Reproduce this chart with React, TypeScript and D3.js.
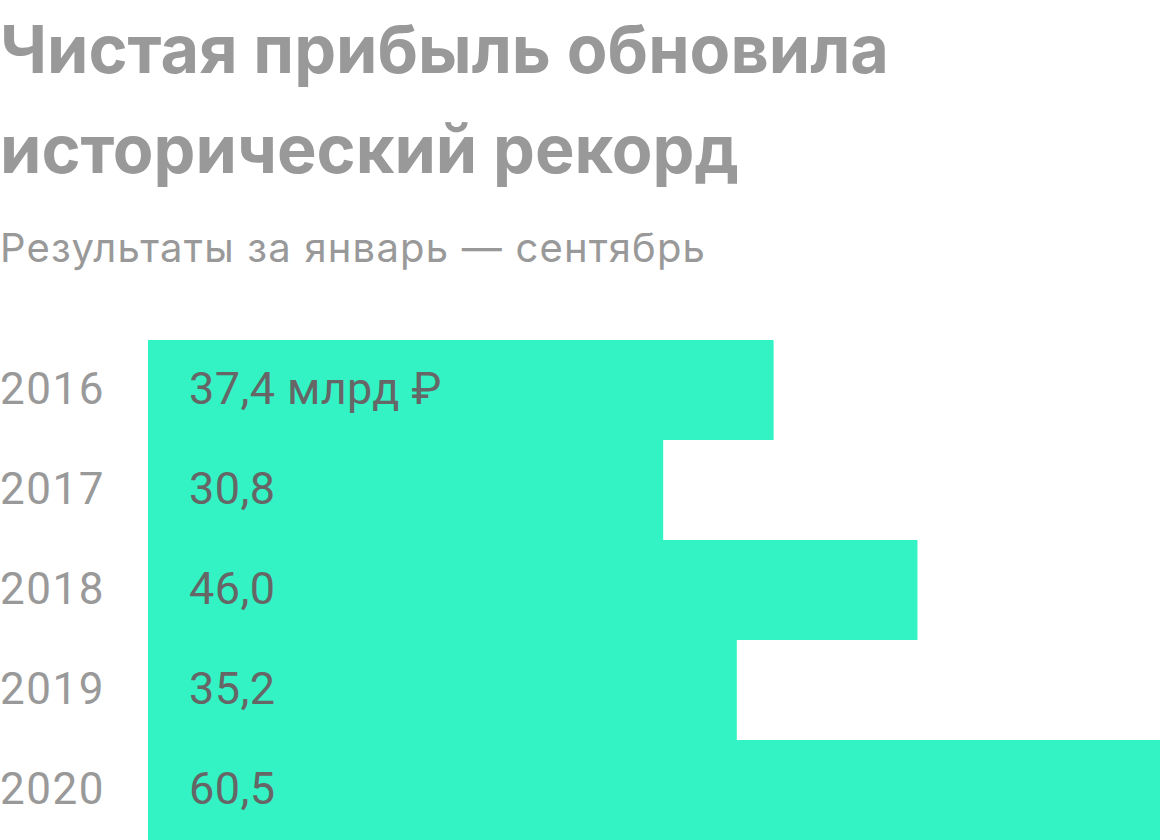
import * as d3 from "d3";

const years = ["2016", "2017", "2018", "2019", "2020"];
const profit = [37.4, 30.8, 46.0, 35.2, 60.5];
const labels = ["37,4 млрд ₽", "30,8", "46,0", "35,2", "60,5"];

const titleLines = ["Чистая прибыль обновила", "исторический рекорд"];
const subtitle = "Результаты за январь — сентябрь";

export default function App() {
  const width = 1160;
  const height = 840;
  const plot = { left: 148, right: 1160, top: 340, bottom: 840 };

  const x = d3
    .scaleLinear()
    .domain([0, d3.max(profit) || 0])
    .range([plot.left, plot.right]);

  const y = d3
    .scaleBand<string>()
    .domain(years)
    .range([plot.top, plot.bottom])
    .padding(0);

  const titleFont = "Inter, Roboto, sans-serif";
  const numFont = "Roboto, Inter, sans-serif";

  return (
    <svg
      width={width}
      height={height}
      style={{ position: "absolute", left: 0, top: 0, background: "#fff" }}
    >
      {titleLines.map((t, i) => (
        <text
          key={t}
          x={0}
          y={73 + i * 100}
          fontFamily={titleFont}
          fontSize={66.5}
          fontWeight={700}
          fill="#999999"
        >
          {t}
        </text>
      ))}
      <text x={0} y={262} fontFamily={titleFont} fontSize={40} letterSpacing={1.2} fill="#999999">
        {subtitle}
      </text>

      {years.map((yr, i) => {
        const by = y(yr) || 0;
        const bh = y.bandwidth();
        return (
          <g key={yr}>
            <rect x={x(0)} y={by} width={x(profit[i]) - x(0)} height={bh} fill="#33F3C5" />
            <text
              x={0}
              y={by + bh / 2 + 14}
              fontFamily={numFont}
              fontSize={44}
              letterSpacing={1.5}
              fill="#999999"
            >
              {yr}
            </text>
            <text
              x={x(0) + 41}
              y={by + bh / 2 + 14}
              fontFamily={numFont}
              fontSize={45}
              letterSpacing={0.4}
              fill="#666666"
            >
              {labels[i]}
            </text>
          </g>
        );
      })}
    </svg>
  );
}
